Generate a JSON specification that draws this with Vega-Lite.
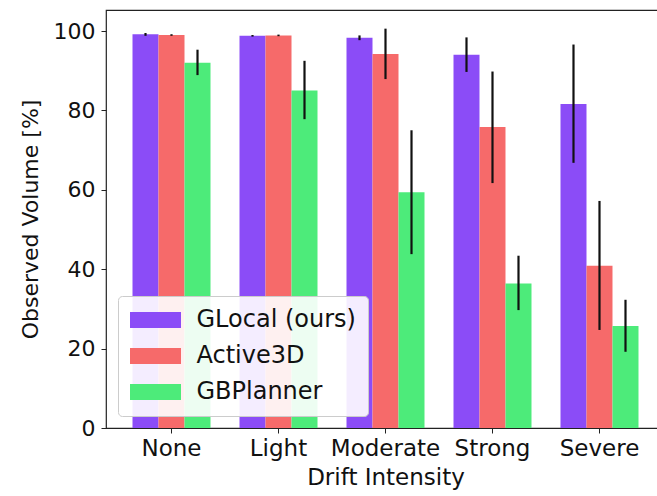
{
  "$schema": "https://vega.github.io/schema/vega-lite/v6.json",
  "width": 559,
  "height": 418,
  "autosize": {"type": "none"},
  "padding": {"left": 106, "top": 10, "right": 0, "bottom": 68},
  "background": "white",
  "config": {
    "font": "DejaVu Sans",
    "view": {"stroke": "#222222", "strokeWidth": 1.2},
    "axis": {"labelColor": "#111111", "titleColor": "#111111", "tickColor": "#222222", "titleFontWeight": "normal", "grid": false, "domain": false}
  },
  "data": {
    "values": [
      {"cat": "None", "method": "GLocal (ours)", "value": 99.2, "lo": 98.8, "hi": 99.5},
      {"cat": "None", "method": "Active3D", "value": 99.0, "lo": 98.8, "hi": 99.2},
      {"cat": "None", "method": "GBPlanner", "value": 92.0, "lo": 88.9, "hi": 95.3},
      {"cat": "Light", "method": "GLocal (ours)", "value": 98.8, "lo": 98.6, "hi": 99.0},
      {"cat": "Light", "method": "Active3D", "value": 98.9, "lo": 98.7, "hi": 99.1},
      {"cat": "Light", "method": "GBPlanner", "value": 85.0, "lo": 77.8, "hi": 92.5},
      {"cat": "Moderate", "method": "GLocal (ours)", "value": 98.3, "lo": 97.7, "hi": 98.9},
      {"cat": "Moderate", "method": "Active3D", "value": 94.2, "lo": 87.9, "hi": 100.6},
      {"cat": "Moderate", "method": "GBPlanner", "value": 59.4, "lo": 43.8, "hi": 75.0},
      {"cat": "Strong", "method": "GLocal (ours)", "value": 94.0, "lo": 89.7, "hi": 98.4},
      {"cat": "Strong", "method": "Active3D", "value": 75.8, "lo": 61.7, "hi": 89.8},
      {"cat": "Strong", "method": "GBPlanner", "value": 36.4, "lo": 29.7, "hi": 43.4},
      {"cat": "Severe", "method": "GLocal (ours)", "value": 81.6, "lo": 66.8, "hi": 96.6},
      {"cat": "Severe", "method": "Active3D", "value": 40.9, "lo": 24.7, "hi": 57.2},
      {"cat": "Severe", "method": "GBPlanner", "value": 25.7, "lo": 19.2, "hi": 32.3}
    ]
  },
  "encoding": {
    "x": {
      "field": "cat", "type": "nominal",
      "sort": ["None", "Light", "Moderate", "Strong", "Severe"],
      "scale": {"paddingInner": 0.271, "paddingOuter": 0.2477},
      "axis": {"title": "Drift Intensity", "labelAngle": 0, "labelFontSize": 23, "titleFontSize": 23, "tickSize": 5, "labelPadding": 4, "titlePadding": 6}
    },
    "xOffset": {
      "field": "method", "type": "nominal",
      "sort": ["GLocal (ours)", "Active3D", "GBPlanner"],
      "scale": {"paddingInner": 0, "paddingOuter": 0}
    }
  },
  "layer": [
    {
      "mark": {"type": "bar"},
      "encoding": {
        "y": {
          "field": "value", "type": "quantitative",
          "scale": {"domain": [0, 105.3], "nice": false},
          "axis": {"title": "Observed Volume [%]", "values": [0, 20, 40, 60, 80, 100], "labelFontSize": 22, "titleFontSize": 22, "tickSize": 5, "labelPadding": 6, "titlePadding": 11}
        },
        "color": {
          "field": "method", "type": "nominal",
          "scale": {"domain": ["GLocal (ours)", "Active3D", "GBPlanner"], "range": ["#8b4cf7", "#f66a6a", "#4deb7a"]},
          "legend": {
            "title": null,
            "orient": "none",
            "legendX": 12,
            "legendY": 286,
            "fillColor": "rgba(255,255,255,0.9)",
            "strokeColor": "#cccccc",
            "cornerRadius": 4,
            "padding": 12,
            "rowPadding": 12,
            "symbolType": "M-3.1875,-1L3.1875,-1L3.1875,1L-3.1875,1Z",
            "symbolSize": 256,
            "symbolStrokeWidth": 0,
            "symbolOpacity": 1,
            "symbolOffset": 13.5,
            "labelOffset": 29,
            "labelFontSize": 24,
            "labelColor": "#111111",
            "labelLimit": 400
          }
        }
      }
    },
    {
      "mark": {"type": "rule", "color": "#111111", "strokeWidth": 2.2},
      "encoding": {
        "y": {"field": "lo", "type": "quantitative"},
        "y2": {"field": "hi"}
      }
    }
  ]
}
